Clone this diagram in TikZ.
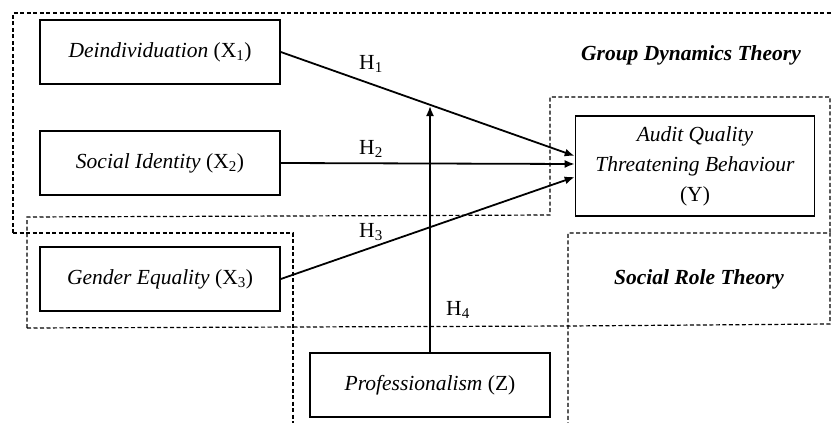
\documentclass[tikz,border=0pt]{standalone}
\usepackage{fontspec}
\setmainfont{Liberation Serif}
\usetikzlibrary{arrows.meta}

\begin{document}
\begin{tikzpicture}[x=1pt,y=-1pt]
    \tikzset{var box/.style={draw, rectangle, line width=1.6pt, minimum width=240pt, minimum height=64pt, align=center, inner sep=2pt, font=\fontsize{21.5}{27.5}\selectfont},
             theory/.style={line width=1.2pt, dash pattern=on 4pt off 2.5pt},
             theory name/.style={font=\fontsize{21.5}{26}\selectfont\bfseries\itshape},
             hyp/.style={font=\fontsize{21.5}{26}\selectfont},
             path arrow/.style={-{Latex[length=10pt,width=8pt]}, line width=1.8pt}}
    \useasboundingbox (0,0) rectangle (831,423);
    % theory regions
    \draw[theory] (13,233) -- (13,13) -- (835,13);
    \draw[theory] (13,233) -- (293,233) -- (293,425);
    \draw[theory] (27,328) -- (27,217) -- (550,215) -- (550,97) -- (830,97) -- (830,233);
    \draw[theory] (27,328) -- (568,326) -- (830,324) -- (830,233) -- (568,233) -- (568,425);
    \node[theory name] (gdt) at (691,55) {Group Dynamics Theory};
    \node[theory name] (srt) at (699,279) {Social Role Theory};
    % variables
    \node[var box] (deind) at (160,52) {\textit{Deindividuation} (X\textsubscript{1})};
    \node[var box] (ident) at (160,163) {\textit{Social Identity} (X\textsubscript{2})};
    \node[var box] (gender) at (160,279) {\textit{Gender Equality} (X\textsubscript{3})};
    \node[var box, minimum width=239pt, minimum height=100pt, font=\fontsize{21.5}{30}\selectfont] (aqtb) at (695,166) {\textit{Audit Quality}\\\textit{Threatening Behaviour}\\(Y)};
    \node[var box] (prof) at (430,385) {\textit{Professionalism} (Z)};
    % hypotheses
    \coordinate (mod) at (430,106);
    \draw[path arrow] (deind.east) -- ([yshift=10pt]aqtb.west);
    \draw[path arrow] (ident.east) -- ([yshift=2pt]aqtb.west);
    \draw[path arrow] (gender.east) -- ([yshift=-11pt]aqtb.west);
    \draw[path arrow] (prof) -- (mod);
    \node[hyp] (h1) at (371,64) {H\textsubscript{1}};
    \node[hyp] (h2) at (371,149) {H\textsubscript{2}};
    \node[hyp] (h3) at (371,232) {H\textsubscript{3}};
    \node[hyp] (h4) at (458,310) {H\textsubscript{4}};
\end{tikzpicture}
\end{document}
